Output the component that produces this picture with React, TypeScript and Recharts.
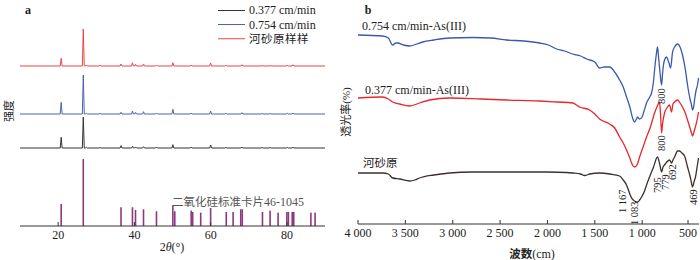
import React from 'react';
import { ComposedChart, Line, Bar, Scatter, XAxis, YAxis } from 'recharts';

const SERIF = '"Liberation Serif", "Times New Roman", serif';
const CJK = '"Noto Sans CJK SC", sans-serif';

// ---------- panel a: XRD ----------
// 2θ of the peaks seen in the three patterns
const xrdPeaks = [20.8, 26.6, 27.4, 31.0, 36.5, 39.5, 40.3, 42.4, 45.8, 50.1, 54.9, 60.0, 64.0, 68.2, 73.5, 75.6, 80.1, 81.6];
// peak heights above each pattern's baseline (a.u.)
const peaksRaw = [7.7, 37, 1, 0.8, 2, 3.3, 1.7, 2, 1, 3.3, 1, 3, 0.8, 1.3, 0.5, 0.5, 1, 1.3];
const peaks754 = [11.7, 39, 0.8, 0.6, 1.7, 3, 1.7, 2.3, 1, 4.7, 1, 3, 0.8, 1.3, 0.5, 0.5, 0.8, 1];
const peaks377 = [10.7, 31, 0.8, 0.5, 2.3, 1.7, 1, 1.3, 1, 3.3, 1, 3, 0.6, 1, 0.4, 0.4, 0.6, 0.8];
// stacking baselines (a.u.)
const baseRaw = 160;
const base754 = 112;
const base377 = 78;

// SiO2 reference card 46-1045: 2θ and relative intensity
const cardPos = [20.8, 26.6, 36.5, 39.5, 40.3, 42.4, 45.8, 50.1, 50.6, 54.9, 55.3, 57.4, 60.0, 64.1, 65.9, 67.9, 68.3, 73.6, 75.6, 77.7, 80.0, 80.4, 81.4, 81.8, 86.3, 87.4];
const cardInt = [33, 100, 28, 28, 24, 25, 22, 31, 22, 23, 21, 20, 27, 21, 21, 25, 25, 21, 23, 20, 21, 21, 21, 21, 20, 20];

const xrdTicks = [20, 40, 60, 80];

// ---------- panel b: FTIR ----------
const wnBlue = [4000, 3740, 3680, 3634, 3600, 3581, 3520, 3455, 3380, 3317, 3200, 3032, 2790, 2600, 2431, 2250, 2083, 1990, 1903, 1820, 1734, 1650, 1587, 1500, 1450, 1400, 1344, 1290, 1238, 1200, 1165, 1130, 1101, 1080, 1060, 1049, 1030, 1006, 980, 954, 920, 901, 880, 869, 850, 838, 825, 810, 795, 785, 775, 764, 743, 720, 700, 679, 658, 626, 600, 574, 545, 521, 495, 479, 469, 455, 447, 430, 416, 405];
const tBlue = [189, 188, 186, 179, 181, 181, 179, 178, 180, 182, 184, 186, 186.5, 186, 184, 183, 181, 179, 175, 173, 170, 168, 165, 162, 156, 157, 157, 152, 144, 137, 127, 117, 106, 102, 105, 107, 105, 106, 113, 121, 127, 131, 143, 154, 170, 177, 165, 150, 139, 150, 159, 164, 167, 162, 156, 172, 177, 180, 177, 169, 155, 139, 125, 119, 114, 118, 124, 134, 139, 146];

const wnRed = [4000, 3740, 3680, 3634, 3560, 3455, 3350, 3243, 3032, 2700, 2431, 2083, 1900, 1734, 1661, 1555, 1500, 1450, 1344, 1290, 1238, 1200, 1165, 1130, 1112, 1080, 1050, 1027, 990, 954, 920, 869, 840, 817, 806, 795, 785, 764, 740, 711, 690, 675, 658, 626, 600, 574, 545, 521, 495, 479, 469, 447, 416, 405];
const tRed = [126, 127, 125, 122, 120, 118, 121, 124, 126, 125, 124, 123, 122, 121, 117, 114, 110, 105, 100, 96, 87, 81, 74, 66, 61, 57, 60, 67, 77, 87, 95, 111, 118, 122, 110, 91, 100, 111, 116, 119, 112, 120, 122, 124, 121, 117, 111, 104, 96, 91, 88, 94, 106, 112];

const wnRaw = [4000, 3740, 3680, 3634, 3560, 3455, 3400, 3349, 3200, 3032, 2800, 2505, 2200, 1998, 1800, 1734, 1650, 1608, 1580, 1555, 1450, 1340, 1238, 1200, 1165, 1130, 1112, 1080, 1049, 1027, 1000, 975, 950, 922, 880, 838, 815, 795, 780, 764, 740, 711, 690, 675, 658, 626, 605, 580, 552, 521, 495, 479, 469, 450, 437, 420, 405];
const tRaw = [51, 51, 50, 46, 45, 43, 44, 46, 49, 51, 52, 52, 52, 52, 51.5, 51, 50, 48.5, 49, 50, 51, 50, 48, 44, 39, 30, 26, 23, 22, 24, 28, 33, 40, 47, 57, 67, 60, 52, 57, 59, 62, 64, 61, 64, 67, 73, 73, 71, 68, 57, 48, 41, 37, 43, 47, 57, 66];

// band labels: where each rotated label starts (wavenumber, transmittance)
const bandText = ['800', '800', '1 167', '1 083', '795', '779', '692', '469'];
const bandWn = [795, 795, 1207, 1080, 838, 754, 682, 458];
const bandT = [120, 73, 11, -1, 31, 34, 44, 19];

const ftirTicks = [4000, 3500, 3000, 2500, 2000, 1500, 1000, 500];

// ---------- helpers ----------
const spikes = (base: number, heights: number[]) => {
  const pts = [{ tt: 10, v: base }];
  xrdPeaks.forEach((p, i) => {
    pts.push({ tt: p - 0.25, v: base }, { tt: p, v: base + heights[i] }, { tt: p + 0.25, v: base });
  });
  pts.push({ tt: 90, v: base });
  return pts;
};
const xrdRaw = spikes(baseRaw, peaksRaw);
const xrd754 = spikes(base754, peaks754);
const xrd377 = spikes(base377, peaks377);
const cardData = cardPos.map((tt, i) => ({ tt, rel: cardInt[i] }));

const pair = (wn: number[], t: number[]) => wn.map((w, i) => ({ wn: w, t: t[i] }));
const ftirBlue = pair(wnBlue, tBlue);
const ftirRed = pair(wnRed, tRed);
const ftirRaw = pair(wnRaw, tRaw);
const bandData = bandText.map((text, i) => ({ wn: bandWn[i], t: bandT[i], text }));

const fmtWn = (v: number) => (v >= 1000 ? `${Math.floor(v / 1000)} ${String(v % 1000).padStart(3, '0')}` : String(v));

const InTick = (props: any) => {
  const { x, y, payload, fmt } = props;
  return (
    <g>
      <line x1={x} x2={x} y1={y} y2={y - 4} stroke="#333" />
      <text x={x} y={y + 13} textAnchor="middle" fontFamily={SERIF} fontSize={12} fill="#222">
        {fmt ? fmt(payload.value) : payload.value}
      </text>
    </g>
  );
};

// thin stick for the reference card, centred on the bar's slot
const Stick = (props: any) => {
  const { x, y, width, height } = props;
  if (x == null || !height) return null;
  return <rect x={x + width / 2 - 0.8} y={y} width={1.6} height={height} fill="#8c3a80" />;
};

const BandLabel = (props: any) => {
  const { cx, cy, payload } = props;
  if (cx == null || cy == null) return null;
  return (
    <text
      x={cx}
      y={cy}
      transform={`rotate(-90 ${cx} ${cy})`}
      textAnchor="start"
      dominantBaseline="central"
      fontFamily={SERIF}
      fontSize={10.5}
      fill="#222"
    >
      {payload.text}
    </text>
  );
};

const Txt = ({ x, y, children, size = 12, font = SERIF, rot = false, bold = false, color = '#222', anchor = 'center' }: any) => (
  <div
    style={{
      position: 'absolute',
      left: x,
      top: y,
      transform: `translate(${anchor === 'left' ? '0' : '-50%'}, -50%)${rot ? ' rotate(-90deg)' : ''}`,
      fontFamily: font,
      fontSize: size,
      fontWeight: bold ? 'bold' : 'normal',
      color,
      whiteSpace: 'nowrap',
      lineHeight: 1,
    }}
  >
    {children}
  </div>
);

const legendItems = [
  { name: '0.377 cm/min', color: '#333333' },
  { name: '0.754 cm/min', color: '#4a63b0' },
  { name: '河砂原样样', color: '#e8474a' },
];

function XrdPanel() {
  return (
    <div style={{ position: 'absolute', left: 0, top: 0, width: 335, height: 260 }}>
      <ComposedChart width={335} height={260} data={cardData} margin={{ top: 1, right: 10, left: 20, bottom: 0 }}>
        <XAxis
          dataKey="tt"
          type="number"
          domain={[10, 90]}
          ticks={xrdTicks}
          allowDataOverflow
          height={34}
          tickSize={0}
          tickMargin={0}
          tickLine={false}
          axisLine={{ stroke: '#333' }}
          tick={<InTick />}
        />
        <XAxis xAxisId="top" orientation="top" type="number" domain={[10, 90]} height={0} tick={false} tickLine={false} axisLine={{ stroke: '#333' }} />
        <YAxis yAxisId="a" type="number" domain={[0, 225]} width={0} tick={false} tickLine={false} axisLine={{ stroke: '#333' }} />
        <YAxis yAxisId="card" type="number" domain={[0, 336]} hide />
        <YAxis yAxisId="r" orientation="right" width={0} tick={false} tickLine={false} axisLine={{ stroke: '#333' }} />
        <Bar yAxisId="card" dataKey="rel" barSize={2} fill="#8c3a80" shape={<Stick />} isAnimationActive={false} />
        <Line yAxisId="a" data={xrd377} dataKey="v" type="linear" stroke="#333333" strokeWidth={1} dot={false} isAnimationActive={false} />
        <Line yAxisId="a" data={xrd754} dataKey="v" type="linear" stroke="#4a63b0" strokeWidth={1} dot={false} isAnimationActive={false} />
        <Line yAxisId="a" data={xrdRaw} dataKey="v" type="linear" stroke="#e8474a" strokeWidth={1} dot={false} isAnimationActive={false} />
      </ComposedChart>

      <Txt x={28} y={10} bold size={12}>a</Txt>
      {legendItems.map((it, i) => (
        <div key={it.name} style={{ position: 'absolute', left: 218, top: 10 + i * 14.5, transform: 'translateY(-50%)', display: 'flex', alignItems: 'center', whiteSpace: 'nowrap' }}>
          <span style={{ display: 'inline-block', width: 27, height: 0, borderTop: `1.3px solid ${it.color}`, marginRight: 4 }} />
          <span style={{ fontFamily: i === 2 ? CJK : SERIF, fontSize: i === 2 ? 11.5 : 12, color: '#222', lineHeight: 1, letterSpacing: i === 2 ? 0.5 : 0 }}>{it.name}</span>
        </div>
      ))}
      <Txt x={8} y={111} rot font={CJK} size={11}>强度</Txt>
      <Txt x={172} y={247} size={12}>
        2<i>θ</i>(°)
      </Txt>
      <Txt x={238} y={202} size={12} color="#555">
        <span style={{ fontFamily: CJK, fontSize: 11.5 }}>二氧化硅标准卡片</span>46-1045
      </Txt>
    </div>
  );
}

function FtirPanel() {
  return (
    <div style={{ position: 'absolute', left: 340, top: 0, width: 360, height: 260 }}>
      <ComposedChart width={360} height={260} margin={{ top: 1, right: 1, left: 18, bottom: 0 }}>
        <XAxis
          dataKey="wn"
          type="number"
          domain={[400, 4000]}
          reversed
          ticks={ftirTicks}
          allowDataOverflow
          height={36}
          tickSize={0}
          tickMargin={0}
          tickLine={false}
          axisLine={{ stroke: '#333' }}
          tick={<InTick fmt={fmtWn} />}
        />
        <XAxis xAxisId="top" orientation="top" type="number" domain={[400, 4000]} reversed height={0} tick={false} tickLine={false} axisLine={{ stroke: '#333' }} />
        <YAxis type="number" domain={[0, 223]} allowDataOverflow width={0} tick={false} tickLine={false} axisLine={{ stroke: '#333' }} />
        <YAxis yAxisId="r" orientation="right" width={0} tick={false} tickLine={false} axisLine={{ stroke: '#333' }} />
        <Line data={ftirRaw} dataKey="t" type="monotone" stroke="#3d2f2c" strokeWidth={1.3} dot={false} isAnimationActive={false} />
        <Line data={ftirRed} dataKey="t" type="monotone" stroke="#e8262c" strokeWidth={1.3} dot={false} isAnimationActive={false} />
        <Line data={ftirBlue} dataKey="t" type="monotone" stroke="#3a58b0" strokeWidth={1.3} dot={false} isAnimationActive={false} />
        <Scatter data={bandData} dataKey="t" shape={<BandLabel />} isAnimationActive={false} />
      </ComposedChart>

      <Txt x={28} y={10} bold size={12}>b</Txt>
      <Txt x={22} y={26} anchor="left">0.754 cm/min-As(III)</Txt>
      <Txt x={25} y={90} anchor="left">0.377 cm/min-As(III)</Txt>
      <Txt x={23} y={163} anchor="left" font={CJK} size={11.5}>河砂原</Txt>
      <Txt x={6} y={112} rot font={CJK} size={11}>
        透光率<span style={{ fontFamily: SERIF }}>(%)</span>
      </Txt>
      <Txt x={192} y={254} size={12}>
        <b style={{ fontFamily: CJK, fontSize: 11.5 }}>波数</b>(cm)
      </Txt>
    </div>
  );
}

export default function App() {
  return (
    <div style={{ position: 'absolute', left: 0, top: 0, width: 700, height: 260, background: '#fff' }}>
      <XrdPanel />
      <FtirPanel />
    </div>
  );
}
